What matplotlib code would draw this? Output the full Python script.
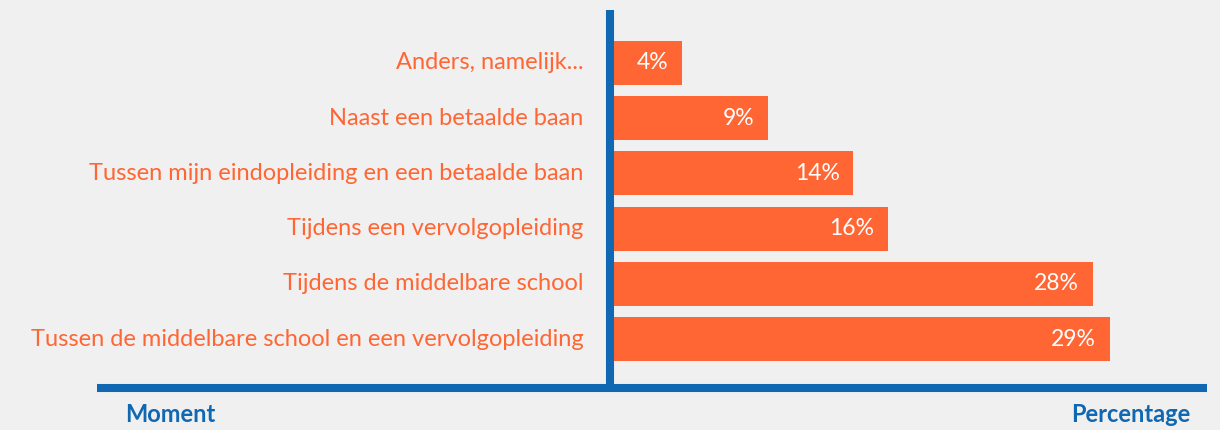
import matplotlib.pyplot as plt
from matplotlib.lines import Line2D

# Data (bottom to top)
categories = [
    "Tussen de middelbare school en een vervolgopleiding",
    "Tijdens de middelbare school",
    "Tijdens een vervolgopleiding",
    "Tussen mijn eindopleiding en een betaalde baan",
    "Naast een betaalde baan",
    "Anders, namelijk...",
]
values = [29, 28, 16, 14, 9, 4]

ORANGE = "#FF6633"
BLUE = "#1067B2"
BG = "#F0F0F0"
W, H = 1220, 430

plt.rcParams['font.family'] = ['Lato', 'DejaVu Sans']

fig = plt.figure(figsize=(W / 100, H / 100), dpi=100, facecolor=BG)

# axes placed so bars start right of the vertical line
left, right, top, bottom = 614, 1207, 10, 392
ax = fig.add_axes([left / W, (H - bottom) / H, (right - left) / W, (bottom - top) / H])
ax.set_facecolor(BG)
ax.set_xlim(0, (right - left) / 17.1)
ax.set_ylim(-0.96, 5.96)

ypos = list(range(len(categories)))
ax.barh(ypos, values, height=0.8, color=ORANGE)

for y, v in zip(ypos, values):
    ax.annotate(f"{v}%", (v, y), xytext=(-10, 0), textcoords="offset points",
                ha="right", va="center", color="white", fontsize=16.5)

for y, c in zip(ypos, categories):
    ax.annotate(c, (0, y), xytext=(-22, 0), textcoords="offset points",
                ha="right", va="center", color=ORANGE, fontsize=17,
                annotation_clip=False)

ax.axis("off")

# axis lines
fig.add_artist(Line2D([610 / W, 610 / W], [(H - 10) / H, (H - 392) / H],
                      color=BLUE, linewidth=5.8, solid_capstyle="butt"))
fig.add_artist(Line2D([97 / W, 1207 / W], [(H - 388) / H, (H - 388) / H],
                      color=BLUE, linewidth=5.8, solid_capstyle="butt"))

fig.text(125 / W, (H - 414) / H, "Moment", color=BLUE, fontsize=17,
         fontweight="bold", ha="left", va="center")
fig.text(1190 / W, (H - 414) / H, "Percentage", color=BLUE, fontsize=17,
         fontweight="bold", ha="right", va="center")

fig.savefig("out.png", dpi=100, facecolor=BG)
